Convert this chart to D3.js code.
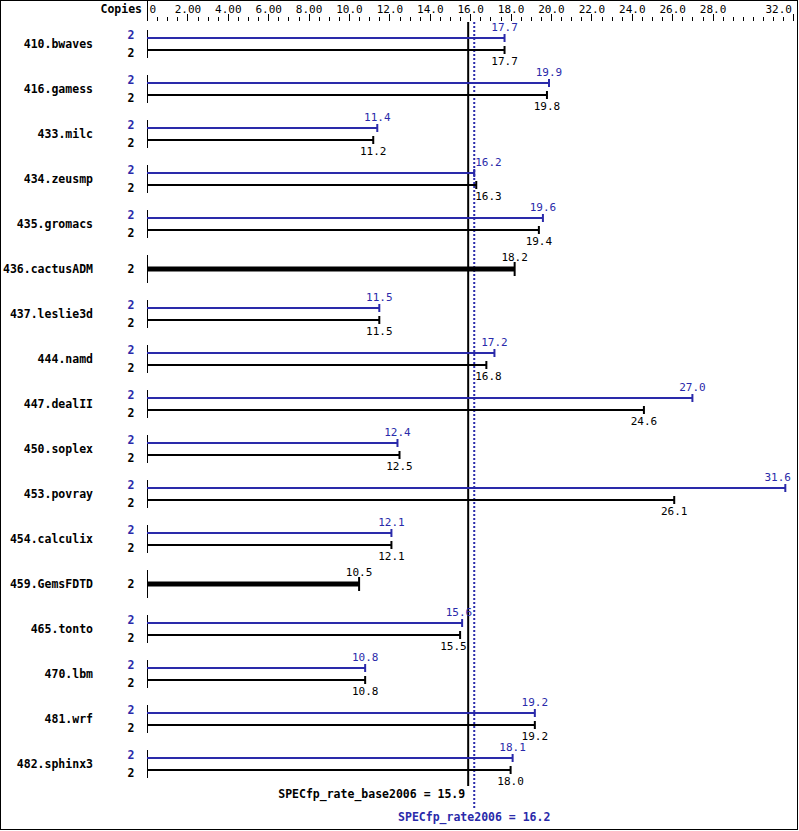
<!DOCTYPE html>
<html><head><meta charset="utf-8">
<script src="https://cdn.jsdelivr.net/npm/d3@7"></script>
<style>body{margin:0;background:#fff}svg{display:block}</style>
</head><body>
<svg id="c" width="799" height="831"></svg>
<script>
const benchmarks = ["410.bwaves","416.gamess","433.milc","434.zeusmp","435.gromacs","436.cactusADM","437.leslie3d","444.namd","447.dealII","450.soplex","453.povray","454.calculix","459.GemsFDTD","465.tonto","470.lbm","481.wrf","482.sphinx3"];
const peak = [17.7,19.9,11.4,16.2,19.6,null,11.5,17.2,27.0,12.4,31.6,12.1,null,15.6,10.8,19.2,18.1];
const base = [17.7,19.8,11.2,16.3,19.4,18.2,11.5,16.8,24.6,12.5,26.1,12.1,10.5,15.5,10.8,19.2,18.0];
const peakCopies = [2,2,2,2,2,null,2,2,2,2,2,2,null,2,2,2,2];
const baseCopies = [2,2,2,2,2,2,2,2,2,2,2,2,2,2,2,2,2];
const majorTicks = [0,2,4,6,8,10,12,14,16,18,20,22,24,26,28,32];
const tickLabels = ["0","2.00","4.00","6.00","8.00","10.0","12.0","14.0","16.0","18.0","20.0","22.0","24.0","26.0","28.0","32.0"];
const baseOverall = 15.9, peakOverall = 16.2;
const baseMetric = "SPECfp_rate_base2006", peakMetric = "SPECfp_rate2006";

const BLUE = "#2a2aaa", BLACK = "#000";
const MONO = "'DejaVu Sans Mono', 'Liberation Mono', monospace";
const svg = d3.select("#c");
const x = d3.scaleLinear().domain([0,32]).range([147,793.4]);
const y = d3.scalePoint().domain(benchmarks).range([44,764]);

// frame
svg.append("rect").attr("x",0.5).attr("y",0.5).attr("width",797).attr("height",829)
  .attr("fill","none").attr("stroke","#000");

// top axis
const axG = svg.append("g").attr("transform","translate(0,21)");
const minor = d3.range(0,32.01,0.5).filter(v=>!majorTicks.includes(v));
axG.call(d3.axisTop(x).tickValues(minor).tickSize(4).tickFormat(""));
const majG = svg.append("g").attr("transform","translate(0,21)");
majG.call(d3.axisTop(x).tickValues(majorTicks).tickSize(7).tickPadding(3)
  .tickFormat((d,i)=>tickLabels[i]));
[axG,majG].forEach(g=>{g.select(".domain").remove();g.selectAll("line").attr("stroke","#000").attr("shape-rendering","crispEdges");});
majG.selectAll("text").attr("font-family",MONO).attr("font-size","11px").attr("fill","#000")
  .attr("y",-8).attr("dy",0)
  .attr("text-anchor",(d,i)=> i===0?"start":(i===majorTicks.length-1?"end":"middle"))
  .attr("dx",(d,i)=> i===0?"2":(i===majorTicks.length-1?"-2":"0"));
svg.append("text").text("Copies").attr("x",142).attr("y",13).attr("text-anchor","end")
  .attr("font-family",MONO).attr("font-weight","bold").attr("font-size","11.5px");
svg.append("line").attr("x1",x(0)).attr("x2",x(0)).attr("y1",0).attr("y2",21)
  .attr("stroke","#000").attr("shape-rendering","crispEdges");

// reference lines
const bx = x(baseOverall), px = x(peakOverall);
svg.append("line").attr("x1",bx).attr("x2",bx).attr("y1",22).attr("y2",786)
  .attr("stroke","#000").attr("stroke-width",2);
svg.append("line").attr("x1",px).attr("x2",px).attr("y1",22).attr("y2",809)
  .attr("stroke",BLUE).attr("stroke-width",2).attr("stroke-dasharray","2,2");

const rows = svg.append("g");
benchmarks.forEach((b,i)=>{
  const c = y(b);
  const g = rows.append("g");
  g.append("text").text(b).attr("x",93).attr("y",c+4).attr("text-anchor","end")
    .attr("font-family",MONO).attr("font-weight","bold").attr("font-size","11.5px");
  g.append("line").attr("x1",x(0)).attr("x2",x(0)).attr("y1",c-14).attr("y2",c+14)
    .attr("stroke","#000").attr("shape-rendering","crispEdges");
  const single = peak[i]===null;
  const bars = single ? [{v:base[i],cp:baseCopies[i],col:BLACK,kind:"base",by:c,w:5,cap:7,lab:c-12,cpy:c}]
    : [{v:peak[i],cp:peakCopies[i],col:BLUE,kind:"peak",by:c-6,w:2,cap:4,lab:c-17,cpy:c-9},
       {v:base[i],cp:baseCopies[i],col:BLACK,kind:"base",by:c+6,w:2,cap:4,lab:c+17,cpy:c+9}];
  bars.forEach(d=>{
    g.append("line").attr("x1",x(0)).attr("x2",x(d.v)).attr("y1",d.by).attr("y2",d.by)
      .attr("stroke",d.col).attr("stroke-width",d.w);
    g.append("line").attr("x1",x(d.v)).attr("x2",x(d.v)).attr("y1",d.by-d.cap).attr("y2",d.by+d.cap)
      .attr("stroke",d.col).attr("stroke-width",2);
    g.append("text").text(d.cp).attr("x",131).attr("y",d.cpy+4).attr("text-anchor","middle")
      .attr("font-family",MONO).attr("font-weight","bold").attr("font-size","11.5px").attr("fill",d.col);
    const t = g.append("text").text(d.v.toFixed(1)).attr("y",d.lab+4).attr("text-anchor","middle")
      .attr("font-family",MONO).attr("font-size","11px").attr("fill",d.col);
    const w = t.node().getComputedTextLength() - 2;
    let lx = Math.min(x(d.v), 790 - w/2);
    const lo = lx - w/2, hi = lx + w/2;
    if (d.kind === "base") {
      const zlo = bx - 2.5, zhi = px + 2;
      if (hi > zlo && lo < zhi) lx = d.v < baseOverall ? zlo - w/2 : zhi + w/2;
    } else {
      const zlo = px - 3, zhi = px + 1;
      if (hi > zlo && lo < zhi) lx = d.v >= peakOverall ? zhi + 1 + w/2 : zlo - w/2;
    }
    t.attr("x",lx);
  });
});

svg.append("text").text(`${baseMetric} = ${baseOverall.toFixed(1)}`).attr("x",bx-3).attr("y",798)
  .attr("text-anchor","end").attr("font-family",MONO).attr("font-weight","bold").attr("font-size","11.5px");
svg.append("text").text(`${peakMetric} = ${peakOverall.toFixed(1)}`).attr("x",px).attr("y",821)
  .attr("text-anchor","middle").attr("font-family",MONO).attr("font-weight","bold").attr("font-size","11.5px").attr("fill",BLUE);
</script>
</body></html>
